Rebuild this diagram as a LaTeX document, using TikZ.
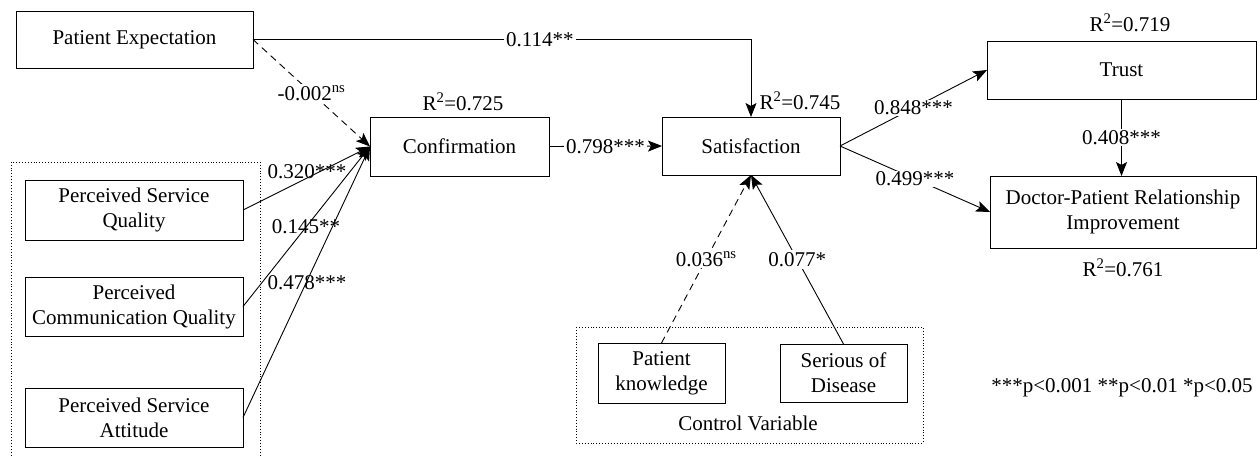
\documentclass[tikz,border=0pt]{standalone}
\usepackage{fontspec}
\setmainfont{Liberation Serif}
\usetikzlibrary{arrows.meta}
\begin{document}
\begin{tikzpicture}[x=1pt,y=-1pt,
  font=\fontsize{21}{25}\selectfont,
  box/.style={draw,line width=0.9pt,inner sep=0pt,outer sep=0pt,align=center},
  conn/.style={line width=0.9pt,-{Stealth[length=14pt,width=11pt,inset=3pt]}},
  dashconn/.style={conn,dash pattern=on 7pt off 5pt},
  lbl/.style={inner sep=1pt},
  wlbl/.style={fill=white,inner sep=2pt},
  grp/.style={line width=0.9pt,dotted}]
\useasboundingbox (0,0) rectangle (1258,456);
% group frames
\draw[grp] (11,470) -- (11,162) -- (260,162) -- (260,470);
\draw[grp] (576,327) rectangle (923,443);
% boxes
\node[box,minimum width=237pt,minimum height=57pt] (pe) at (134.5,39.5) {Patient Expectation};
\node[box,minimum width=179pt,minimum height=59pt] (conf) at (459.5,146.5) {Confirmation};
\node[box,minimum width=178pt,minimum height=58pt] (sat) at (751,146) {Satisfaction};
\node[box,minimum width=269pt,minimum height=58pt] (trust) at (1121.5,70) {Trust};
\node[box,minimum width=266pt,minimum height=72pt] (dpri) at (1123,212) {Doctor-Patient Relationship\\Improvement};
\node[box,minimum width=218pt,minimum height=60pt] (psq) at (134,210) {Perceived Service\\Quality};
\node[box,minimum width=218pt,minimum height=59pt] (pcq) at (134,306.5) {Perceived\\Communication Quality};
\node[box,minimum width=218pt,minimum height=59pt] (psa) at (134,417.5) {Perceived Service\\Attitude};
\node[box,minimum width=127pt,minimum height=60pt] (pk) at (661.5,373) {Patient\\knowledge};
\node[box,minimum width=127pt,minimum height=58pt] (sd) at (843.5,373) {Serious of\\Disease};
% free texts
\node[lbl] (r2conf) at (463,102) {R\textsuperscript{2}=0.725};
\node[lbl] (r2sat) at (800,101) {R\textsuperscript{2}=0.745};
\node[lbl] (r2trust) at (1130,23) {R\textsuperscript{2}=0.719};
\node[lbl] (r2dpri) at (1123,268) {R\textsuperscript{2}=0.761};
\node[lbl] (ctrl) at (748,423) {Control Variable};
\node[lbl] (legend) at (1122,388) {***p<0.001 **p<0.01 *p<0.05};
% connectors
\draw[conn] (pe.east) -| (sat.north) node[wlbl,pos=0.288] (l114) {0.114**};
\draw[dashconn] (pe.east) -- (conf.west) node[wlbl,pos=0.5] (l002) {-0.002\textsuperscript{ns}};
\draw[conn] (psq.east) -- (conf.west);
\draw[conn] (pcq.east) -- (conf.west);
\draw[conn] (psa.east) -- (conf.west);
\node[lbl] (l320) at (307,172) {0.320***};
\node[lbl] (l145) at (306,227) {0.145**};
\node[lbl] (l478) at (307,283) {0.478***};
\draw[conn] (conf.east) -- (sat.west) node[wlbl,pos=0.5] (l798) {0.798***};
\draw[dashconn] (pk.north) -- (sat.south) node[wlbl,pos=0.5] (l036) {0.036\textsuperscript{ns}};
\draw[conn] (sd.north) -- (sat.south) node[wlbl,pos=0.5] (l077) {0.077*};
\draw[conn] (sat.east) -- (trust.west) node[wlbl,pos=0.5,inner sep=1pt] (l848) {0.848***};
\draw[conn] (sat.east) -- (dpri.west) node[wlbl,pos=0.5,inner sep=1pt] (l499) {0.499***};
\draw[conn] (trust.south) -- (trust.south |- dpri.north) node[wlbl,pos=0.5,inner sep=1pt] (l408) {0.408***};
\end{tikzpicture}
\end{document}
